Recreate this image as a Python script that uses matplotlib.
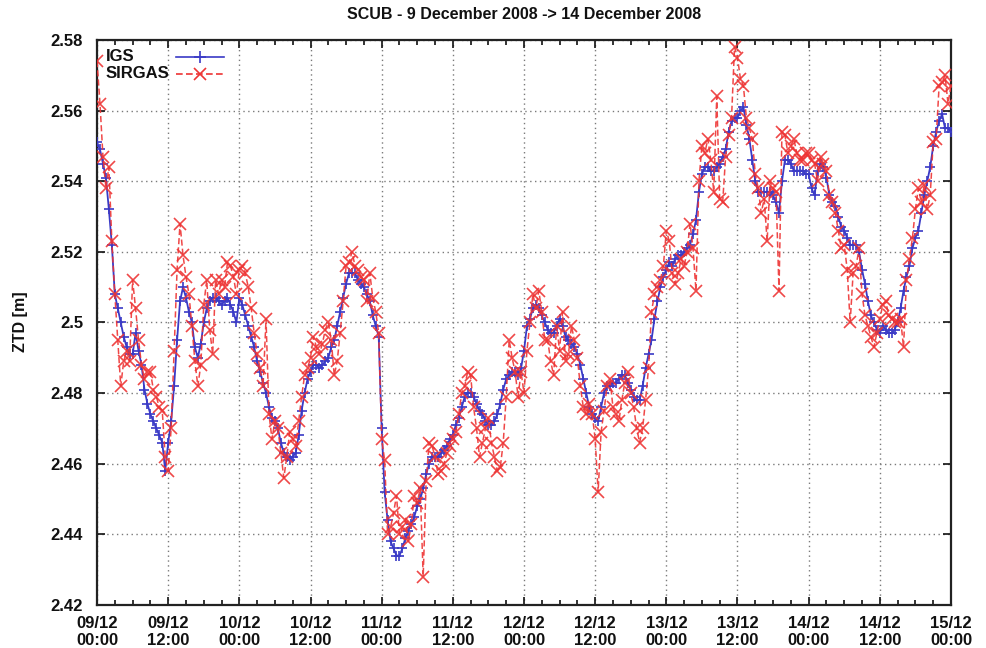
import pandas as pd
import matplotlib

matplotlib.use('Agg')
import matplotlib.pyplot as plt
import matplotlib.dates as mdates
from matplotlib.lines import Line2D
from matplotlib.ticker import FuncFormatter, MultipleLocator

plt.rcParams['font.family'] = ['Liberation Sans', 'DejaVu Sans']
plt.rcParams['font.weight'] = 'bold'

station = 'SCUB'
t_start = '2008-12-09 00:00'
t_end = '2008-12-15 00:00'
step = '30min'

# ZTD [m], one value every 30 min, 09/12 00:00 .. 15/12 00:00
igs_ztd = [
    2.551, 2.549, 2.545, 2.541, 2.532, 2.522, 2.508, 2.504, 2.500, 2.496, 2.493, 2.491,
    2.491, 2.497, 2.492, 2.488, 2.481, 2.477, 2.474, 2.472, 2.470, 2.468, 2.466, 2.458,
    2.466, 2.472, 2.482, 2.495, 2.506, 2.510, 2.507, 2.503, 2.500, 2.493, 2.490, 2.494,
    2.500, 2.504, 2.506, 2.507, 2.507, 2.506, 2.505, 2.506, 2.507, 2.505, 2.503, 2.500,
    # 10/12
    2.507, 2.505, 2.502, 2.499, 2.496, 2.493, 2.489, 2.486, 2.483, 2.480, 2.476, 2.473,
    2.472, 2.470, 2.466, 2.463, 2.462, 2.461, 2.462, 2.463, 2.468, 2.475, 2.480, 2.484,
    2.486, 2.488, 2.488, 2.487, 2.488, 2.489, 2.490, 2.493, 2.495, 2.499, 2.503, 2.507,
    2.511, 2.514, 2.514, 2.514, 2.512, 2.511, 2.510, 2.508, 2.506, 2.502, 2.499, 2.496,
    # 11/12
    2.470, 2.452, 2.444, 2.438, 2.436, 2.434, 2.434, 2.436, 2.439, 2.441, 2.443, 2.445,
    2.448, 2.450, 2.453, 2.457, 2.460, 2.462, 2.462, 2.462, 2.463, 2.464, 2.465, 2.467,
    2.468, 2.471, 2.473, 2.476, 2.479, 2.480, 2.480, 2.479, 2.477, 2.475, 2.474, 2.472,
    2.471, 2.471, 2.472, 2.474, 2.477, 2.481, 2.484, 2.485, 2.486, 2.486, 2.485, 2.487,
    # 12/12
    2.492, 2.499, 2.501, 2.504, 2.505, 2.504, 2.502, 2.500, 2.498, 2.497, 2.497, 2.499,
    2.501, 2.499, 2.496, 2.495, 2.494, 2.493, 2.491, 2.488, 2.484, 2.480, 2.476, 2.474,
    2.473, 2.472, 2.476, 2.480, 2.482, 2.482, 2.483, 2.483, 2.484, 2.485, 2.485, 2.483,
    2.481, 2.479, 2.478, 2.478, 2.482, 2.487, 2.491, 2.495, 2.501, 2.506, 2.510, 2.513,
    # 13/12
    2.515, 2.517, 2.516, 2.518, 2.519, 2.519, 2.520, 2.521, 2.522, 2.525, 2.529, 2.537,
    2.542, 2.544, 2.544, 2.543, 2.543, 2.544, 2.545, 2.547, 2.549, 2.554, 2.557, 2.558,
    2.558, 2.560, 2.561, 2.556, 2.552, 2.546, 2.540, 2.537, 2.537, 2.537, 2.537, 2.537,
    2.536, 2.534, 2.531, 2.540, 2.546, 2.546, 2.545, 2.543, 2.543, 2.543, 2.543, 2.542,
    # 14/12
    2.542, 2.538, 2.536, 2.543, 2.545, 2.544, 2.541, 2.536, 2.534, 2.533, 2.530, 2.527,
    2.526, 2.524, 2.522, 2.522, 2.522, 2.520, 2.515, 2.511, 2.506, 2.502, 2.500, 2.498,
    2.497, 2.499, 2.498, 2.497, 2.497, 2.498, 2.500, 2.504, 2.509, 2.513, 2.516, 2.521,
    2.524, 2.526, 2.531, 2.536, 2.540, 2.544, 2.550, 2.554, 2.557, 2.559, 2.555, 2.555,
    2.554,
]

sirgas_ztd = [
    2.574, 2.562, 2.547, 2.538, 2.544, 2.523, 2.508, 2.495, 2.482, 2.489, 2.492, 2.489,
    2.512, 2.504, 2.495, 2.488, 2.484, 2.486, 2.486, 2.481, 2.479, 2.476, 2.475, 2.462,
    2.458, 2.470, 2.492, 2.515, 2.528, 2.519, 2.513, 2.508, 2.499, 2.489, 2.482, 2.488,
    2.505, 2.512, 2.498, 2.491, 2.512, 2.508, 2.512, 2.510, 2.517, 2.516, 2.513, 2.508,
    # 10/12
    2.515, 2.516, 2.514, 2.510, 2.504, 2.497, 2.491, 2.487, 2.482, 2.501, 2.474, 2.467,
    2.472, 2.470, 2.463, 2.456, 2.462, 2.469, 2.467, 2.465, 2.472, 2.479, 2.485, 2.487,
    2.490, 2.496, 2.493, 2.491, 2.494, 2.498, 2.500, 2.495, 2.485, 2.489, 2.497, 2.506,
    2.516, 2.517, 2.520, 2.516, 2.515, 2.513, 2.512, 2.506, 2.514, 2.507, 2.503, 2.497,
    # 11/12
    2.467, 2.461, 2.440, 2.442, 2.446, 2.451, 2.440, 2.442, 2.444, 2.438, 2.443, 2.451,
    2.449, 2.453, 2.428, 2.455, 2.466, 2.465, 2.462, 2.457, 2.458, 2.460, 2.463, 2.465,
    2.467, 2.469, 2.474, 2.480, 2.482, 2.486, 2.485, 2.476, 2.470, 2.462, 2.466, 2.470,
    2.473, 2.466, 2.462, 2.458, 2.459, 2.466, 2.479, 2.495, 2.490, 2.486, 2.479, 2.486,
    # 12/12
    2.480, 2.492, 2.500, 2.508, 2.504, 2.509, 2.503, 2.495, 2.495, 2.489, 2.485, 2.499,
    2.492, 2.503, 2.489, 2.491, 2.499, 2.495, 2.490, 2.482, 2.476, 2.474, 2.477, 2.474,
    2.467, 2.452, 2.469, 2.475, 2.482, 2.484, 2.476, 2.474, 2.472, 2.478, 2.483, 2.486,
    2.480, 2.476, 2.470, 2.466, 2.470, 2.478, 2.487, 2.503, 2.508, 2.510, 2.512, 2.516,
    # 13/12
    2.526, 2.523, 2.514, 2.511, 2.514, 2.518, 2.516, 2.520, 2.528, 2.521, 2.509, 2.540,
    2.550, 2.548, 2.552, 2.546, 2.537, 2.564, 2.535, 2.534, 2.547, 2.553, 2.558, 2.578,
    2.575, 2.569, 2.567, 2.558, 2.555, 2.552, 2.542, 2.538, 2.531, 2.535, 2.523, 2.540,
    2.538, 2.537, 2.509, 2.554, 2.553, 2.548, 2.550, 2.552, 2.548, 2.546, 2.546, 2.548,
    # 14/12
    2.548, 2.546, 2.545, 2.540, 2.547, 2.545, 2.543, 2.536, 2.534, 2.531, 2.526, 2.521,
    2.522, 2.515, 2.500, 2.514, 2.516, 2.521, 2.508, 2.502, 2.499, 2.496, 2.493, 2.497,
    2.501, 2.505, 2.506, 2.502, 2.501, 2.500, 2.500, 2.501, 2.493, 2.512, 2.518, 2.524,
    2.532, 2.538, 2.534, 2.539, 2.532, 2.536, 2.551, 2.552, 2.567, 2.568, 2.570, 2.562,
    2.567,
]

igs_color = '#3a3ac6'
sirgas_color = '#ee3434'

times = pd.date_range(t_start, periods=len(igs_ztd), freq=step)

fig = plt.figure(figsize=(9.87, 6.48), dpi=100)
ax = fig.add_axes([0.0983, 0.0664, 0.8652, 0.8719])

ax.plot(times, igs_ztd, color=igs_color, lw=1.3, marker='+', ms=7.5, mew=1.2, zorder=3)
ax.plot(times, sirgas_ztd, color=sirgas_color, lw=1.1, ls=(0, (4, 2)), marker='x',
        ms=8, mew=1.2, alpha=0.9, zorder=4)

ax.set_xlim(pd.Timestamp(t_start), pd.Timestamp(t_end))
ax.set_ylim(2.42, 2.58)

ax.yaxis.set_major_locator(MultipleLocator(0.02))
ax.yaxis.set_major_formatter(FuncFormatter(lambda v, p: '%g' % round(v, 4)))
ax.xaxis.set_major_locator(mdates.HourLocator(byhour=[0, 12]))
ax.xaxis.set_minor_locator(mdates.HourLocator(byhour=range(0, 24, 3)))
ax.xaxis.set_major_formatter(mdates.DateFormatter('%d/%m\n%H:%M'))

ax.tick_params(which='both', direction='in', top=True, right=True, width=1.2,
               labelsize=12, colors='#111111')
ax.tick_params(which='major', length=6)
ax.tick_params(which='minor', length=3.5)
ax.tick_params(axis='y', pad=10)
ax.tick_params(axis='x', pad=8)
for lbl in ax.get_xticklabels() + ax.get_yticklabels():
    lbl.set_fontweight('bold')

ax.grid(True, which='major', ls=(0, (1, 2.5)), color='#7a7a7a', lw=1.0)
for sp in ax.spines.values():
    sp.set_linewidth(1.6)
    sp.set_color('#222222')

# gnuplot-style key: label on the left, sample on the right
key = [('IGS', igs_color, '-', '+', 0.970), ('SIRGAS', sirgas_color, (0, (4, 2)), 'x', 0.940)]
for name, col, ls, mk, ypos in key:
    ax.text(0.010, ypos, name, transform=ax.transAxes, ha='left', va='center',
            fontsize=12, fontweight='bold', color='#111111')
    ax.add_line(Line2D([0.092, 0.149], [ypos, ypos], transform=ax.transAxes,
                       color=col, lw=1.2, ls=ls))
    ax.add_line(Line2D([0.1205], [ypos], transform=ax.transAxes, color=col,
                       marker=mk, ms=8, mew=1.2, ls='none'))

fig.text(0.531, 0.977, '%s - 9 December 2008 -> 14 December 2008' % station,
         ha='center', va='center', fontsize=11.5, fontweight='bold', color='#111111')
fig.text(0.021, 0.503, 'ZTD [m]', rotation=90, ha='center', va='center',
         fontsize=11.5, fontweight='bold', color='#111111')

plt.savefig('out.png', dpi=100)
plt.close()
